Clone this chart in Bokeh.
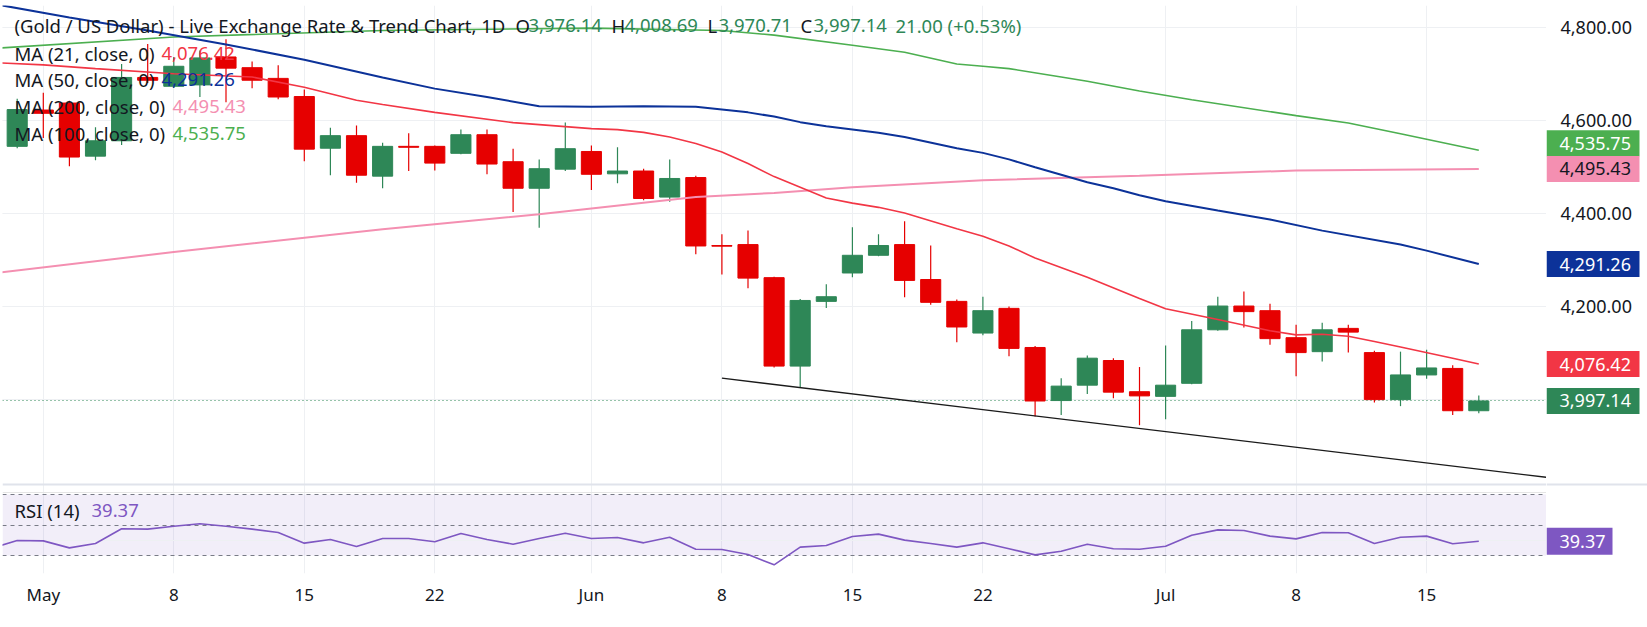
from bokeh.plotting import figure
from bokeh.layouts import row
from bokeh.models import Range1d, FixedTicker, Label, ColumnDataSource, Grid
from bokeh.core.properties import value
from bokeh.embed import file_html
from bokeh.resources import INLINE

# ---------------- data ----------------
dates = ["Apr 30", "May 1", "May 4", "May 5", "May 6", "May 7", "May 8",
         "May 11", "May 12", "May 13", "May 14", "May 15",
         "May 18", "May 19", "May 20", "May 21", "May 22",
         "May 25", "May 26", "May 27", "May 28", "May 29",
         "Jun 1", "Jun 2", "Jun 3", "Jun 4", "Jun 5",
         "Jun 8", "Jun 9", "Jun 10", "Jun 11", "Jun 12",
         "Jun 15", "Jun 16", "Jun 17", "Jun 18", "Jun 19",
         "Jun 22", "Jun 23", "Jun 24", "Jun 25", "Jun 26",
         "Jun 29", "Jun 30", "Jul 1", "Jul 2", "Jul 3",
         "Jul 6", "Jul 7", "Jul 8", "Jul 9", "Jul 10",
         "Jul 13", "Jul 14", "Jul 15", "Jul 16", "Jul 17"]

opens = [4544, 4622, 4637, 4523, 4556, 4692, 4673, 4676, 4736, 4713,
         4690, 4651, 4540, 4567, 4480, 4544, 4544, 4529, 4569, 4511,
         4454, 4495, 4533, 4485, 4491, 4435, 4477, 4331, 4333, 4262,
         4072, 4211, 4272, 4310, 4333, 4258, 4211, 4143, 4196, 4112,
         3998, 4031, 4084, 4017, 4007, 4035, 4150, 4201, 4191, 4133,
         4103, 4153, 4101, 4000, 4053, 4067, 3976.14]
highs = [4646, 4659, 4642, 4585, 4721, 4764, 4736, 4750, 4774, 4726,
         4718, 4666, 4584, 4589, 4552, 4572, 4546, 4580, 4580, 4539,
         4516, 4595, 4546, 4542, 4496, 4516, 4481, 4355, 4363, 4264,
         4216, 4248, 4370, 4355, 4383, 4331, 4215, 4221, 4200, 4115,
         4046, 4095, 4089, 4070, 4116, 4169, 4221, 4232, 4206, 4161,
         4165, 4161, 4105, 4103, 4107, 4074, 4008.69]
lows = [4540, 4562, 4501, 4514, 4547, 4680, 4670, 4650, 4639, 4669,
        4645, 4512, 4482, 4466, 4454, 4491, 4492, 4527, 4484, 4403,
        4369, 4491, 4450, 4465, 4428, 4425, 4312, 4269, 4239, 4069,
        4025, 4197, 4263, 4308, 4220, 4204, 4123, 4138, 4093, 3964,
        3967, 4012, 4003, 3945, 3958, 4033, 4148, 4155, 4118, 4050,
        4082, 4101, 3994, 3986, 4045, 3967, 3970.71]
closes = [4623, 4615, 4521, 4556, 4692, 4686, 4716, 4734, 4712, 4686,
          4650, 4538, 4567, 4482, 4544, 4542, 4508, 4569, 4506, 4454,
          4496, 4539, 4484, 4491, 4432, 4475, 4330, 4329.6, 4261, 4072,
          4213, 4221, 4310, 4331, 4256, 4209, 4156, 4191, 4110, 3997,
          4029, 4089, 4016, 4008, 4031, 4150, 4201, 4189, 4131, 4101,
          4150, 4145, 4000, 4053, 4068, 3976.14, 3997.14]

# moving averages, read at bar positions (bar index, value)
ma21_x = [-1, 1, 3, 6, 9, 11, 13, 14, 16, 19, 22, 23, 24, 25, 26, 27, 28, 29, 30, 31,
          32, 33, 34, 36, 37, 38, 39, 41, 43, 44, 46, 48, 49, 50, 51, 52, 53, 55, 56]
ma21_y = [4724, 4719, 4711, 4700, 4693, 4671, 4643, 4634, 4617, 4595, 4582, 4580, 4574,
          4564, 4550, 4532, 4507, 4479, 4456, 4433, 4422, 4413, 4401, 4367, 4351, 4330,
          4304, 4263, 4217, 4195, 4172, 4148, 4139, 4140.5, 4136, 4125, 4113, 4089, 4076.42]
ma50_x = [-1, 2, 5, 8, 11, 14, 16, 18, 20, 22, 24, 26, 27, 28, 29, 30, 31, 33, 34, 36,
          37, 38, 39, 40, 41, 42, 43, 44, 46, 48, 50, 53, 54, 56]
ma50_y = [4851, 4821, 4793, 4763, 4730, 4692, 4668, 4650, 4630, 4629, 4630, 4629, 4623,
          4617, 4608, 4596, 4587, 4573, 4564, 4540, 4530, 4516, 4499, 4483, 4467, 4454,
          4439, 4426, 4406, 4387, 4363, 4333, 4320, 4291.26]
ma100_x = [-1, 6, 14, 22, 27, 29, 32, 34, 36, 37, 38, 40, 41, 43, 45, 49, 51, 53, 56]
ma100_y = [4754, 4779, 4793, 4798, 4793, 4783, 4761, 4746, 4721, 4716, 4711, 4693, 4684,
           4663, 4644, 4610, 4594, 4571, 4535.75]
ma200_x = [-1, 6, 14, 20, 26, 29, 32, 37, 43, 49, 56]
ma200_y = [4271, 4317, 4366, 4398, 4435, 4444, 4456, 4471, 4481, 4492, 4495.43]

# RSI(14), one value per bar from index -1 to 56
rsi_x = list(range(-1, 57))
rsi_vals = [34.7, 39.8, 39.6, 35.0, 37.9, 47.5, 47.3, 49.2, 50.8, 49.2, 47.3, 45.1, 38.1,
            40.5, 35.9, 41.1, 41.1, 39.0, 44.4, 40.5, 37.4, 41.1, 44.6, 41.1, 41.8, 38.3,
            42.0, 34.1, 33.9, 30.6, 23.9, 35.5, 36.6, 42.5, 44.0, 40.1, 37.9, 35.5, 38.3,
            34.4, 30.4, 32.8, 37.4, 34.4, 34.1, 36.1, 43.3, 46.8, 46.4, 42.7, 40.9, 45.1,
            44.9, 37.9, 42.0, 42.7, 37.7, 39.37]
rsi_levels = [70, 50, 30]

# descending trend line (bar index, price)
trend_x = [27, 60]
trend_y = [4046, 3823.6]

tick_dates = ["May 1", "May 8", "May 15", "May 22", "Jun 1", "Jun 8", "Jun 15",
              "Jun 22", "Jul 1", "Jul 8", "Jul 15"]
tick_labels = ["May", "8", "15", "22", "Jun", "8", "15", "22", "Jul", "8", "15"]
price_ticks = [4000, 4200, 4400, 4600, 4800]
price_tick_labels = ["", "4,200.00", "4,400.00", "4,600.00", "4,800.00"]  # 4,000 hidden by the last-price tag

title_text = "(Gold / US Dollar) - Live Exchange Rate & Trend Chart, 1D"

# ---------------- layout / calibration ----------------
W, H = 1647, 627
FL, FR, FT, FB = 2, 1546, 5, 573         # frame edges in page pixels
PX0, BAR = 16.7, 26.1                    # pixel of bar 0, pixels per bar
PY4800, PPU = 26.67, 0.46556             # pixel of 4800, pixels per price unit
RSI50, RPU = 524.5, 1.525                # pixel of RSI 50, pixels per RSI unit


def idx_of_px(px):
    return (px - PX0) / BAR


def price_of_py(py):
    return 4800 - (py - PY4800) / PPU


def rsi_of_py(py):
    return 50 - (py - RSI50) / RPU


FONT = "Noto Sans"
DARK = "#131722"
GREEN = "#2e8757"
RED = "#e60000"
C21, C50, C100, C200 = "#f23645", "#0c3299", "#4caf50", "#f48fb1"
PURPLE = "#7e57c2"
GRID = "#eef0f3"
SEP = "#e0e3eb"

yr = Range1d(price_of_py(FB), price_of_py(FT))
rr = Range1d(rsi_of_py(FB), rsi_of_py(FT))

# ---------------- main chart (price + RSI panes) ----------------
p = figure(width=FR, height=H,
           x_range=Range1d(idx_of_px(FL), idx_of_px(FR)), y_range=yr,
           y_axis_location=None, toolbar_location=None, output_backend="svg",
           min_border_left=FL, min_border_right=0,
           min_border_top=FT, min_border_bottom=H - FB)
p.extra_y_ranges = {"rsi": rr}
p.outline_line_color = None
p.background_fill_color = "white"
p.border_fill_color = "white"

tick_idx = [dates.index(d) for d in tick_dates]
xax = p.xaxis[0]
xax.ticker = FixedTicker(ticks=tick_idx)
xax.major_label_overrides = {i: t for i, t in zip(tick_idx, tick_labels)}
xax.axis_line_color = None
xax.major_tick_line_color = None
xax.minor_tick_line_color = None
xax.major_tick_out = 0
xax.major_label_standoff = 9
xax.major_label_text_font = FONT
xax.major_label_text_font_size = "17px"
xax.major_label_text_color = DARK
p.xgrid.grid_line_color = GRID
p.add_layout(Grid(dimension=1, ticker=FixedTicker(ticks=price_ticks), grid_line_color=GRID))

# pane separator and RSI guides
p.hspan(y=[price_of_py(484)], line_color=SEP, line_width=2)
p.hstrip(y0=[rsi_levels[2]], y1=[rsi_levels[0]], y_range_name="rsi",
         fill_color=PURPLE, fill_alpha=0.1, line_color=None)
p.hspan(y=[40], y_range_name="rsi", line_color=GRID, line_width=1)
p.hspan(y=rsi_levels, y_range_name="rsi", line_color="#787b86",
        line_dash="4 4", line_width=1)
p.line(rsi_x, rsi_vals, y_range_name="rsi", line_color=PURPLE, line_width=1.6)

# last price line
p.hspan(y=[closes[-1]], line_color=GREEN, line_dash="1 3", line_width=1.2)

# candles
n = len(dates)
colors = [GREEN if closes[i] > opens[i] else RED for i in range(n)]
src = ColumnDataSource(dict(
    x=list(range(n)), h=highs, l=lows,
    top=[max(o, c) for o, c in zip(opens, closes)],
    bottom=[min(o, c) for o, c in zip(opens, closes)],
    color=colors))
p.segment(x0="x", y0="h", x1="x", y1="l", line_color="color", line_width=1.2, source=src)
p.vbar(x="x", width=0.77, top="top", bottom="bottom", fill_color="color",
       line_color="color", line_width=1, source=src)

# moving averages and trend line
p.line(ma200_x, ma200_y, line_color=C200, line_width=2)
p.line(ma100_x, ma100_y, line_color=C100, line_width=1.6)
p.line(ma50_x, ma50_y, line_color=C50, line_width=2)
p.line(ma21_x, ma21_y, line_color=C21, line_width=1.6)
p.line(trend_x, trend_y, line_color="#1a1a1a", line_width=1.3)


def add_text(px, py, txt, color, size="18.5px"):
    p.add_layout(Label(x=idx_of_px(px), y=price_of_py(py), text=txt,
                       text_color=color, text_font=FONT, text_font_size=size,
                       text_align="left", text_baseline="middle"))


# header
o, h, l, c = opens[-1], highs[-1], lows[-1], closes[-1]
chg = c - closes[-2]
pct = chg / closes[-2] * 100
add_text(14, 25, title_text, DARK)
header_parts = [(515, "O", DARK), (528, f"{o:,.2f}", GREEN),
                (611, "H", DARK), (624, f"{h:,.2f}", GREEN),
                (707, "L", DARK), (718, f"{l:,.2f}", GREEN),
                (800, "C", DARK), (813, f"{c:,.2f}", GREEN),
                (895, f"{chg:.2f} ({pct:+.2f}%)", GREEN)]
for px, t, col in header_parts:
    add_text(px, 25, t, col)

# MA legend
legend = [("MA (21, close, 0)", ma21_y[-1], C21, 52.7, 161),
          ("MA (50, close, 0)", ma50_y[-1], C50, 79.3, 161),
          ("MA (200, close, 0)", ma200_y[-1], C200, 106, 172),
          ("MA (100, close, 0)", ma100_y[-1], C100, 133.3, 172)]
for name, val, col, py, vx in legend:
    add_text(14, py, name, DARK)
    add_text(vx, py, f"{val:,.2f}", col)

# RSI legend
add_text(14, 510, "RSI (14)", DARK)
add_text(91, 510, f"{rsi_vals[-1]:.2f}", PURPLE)

# ---------------- right price scale ----------------
SW = W - FR
q = figure(width=SW, height=H, x_range=Range1d(0, SW), y_range=yr,
           y_axis_location=None, x_axis_location=None,
           toolbar_location=None, output_backend="svg",
           min_border_left=0, min_border_right=0,
           min_border_top=FT, min_border_bottom=H - FB)
q.extra_y_ranges = {"rsi": rr}
q.outline_line_color = None
q.background_fill_color = "white"
q.border_fill_color = "white"
q.grid.visible = False

q.hspan(y=[price_of_py(484)], line_color=SEP, line_width=2)

# price scale labels, placed through the shared price scale
q.text(x=14, y=price_ticks, text=price_tick_labels, text_color=DARK,
       text_font=value(FONT), text_font_size="18px", text_baseline="middle")

# value tags: (value, background, text colour, upward shift in px to avoid overlap)
tags = [(ma100_y[-1], C100, "white", 7),
        (ma200_y[-1], C200, DARK, 0),
        (ma50_y[-1], C50, "white", 0),
        (ma21_y[-1], C21, "white", 0),
        (closes[-1], GREEN, "white", 0)]
tag_y = [v + shift / PPU for v, _, _, shift in tags]
q.rect(x=46.5, y=tag_y, width=93, height=26, height_units="screen",
       fill_color=[t[1] for t in tags], line_color=None)
q.text(x=13, y=tag_y, text=[f"{t[0]:,.2f}" for t in tags],
       text_color=[t[2] for t in tags], text_font=value(FONT),
       text_font_size="18px", text_baseline="middle")
q.rect(x=33, y=[rsi_vals[-1]], width=66, height=27, height_units="screen",
       y_range_name="rsi", fill_color=PURPLE, line_color=None)
q.text(x=13, y=[rsi_vals[-1]], text=[f"{rsi_vals[-1]:.2f}"], y_range_name="rsi",
       text_color="white", text_font=value(FONT), text_font_size="18px",
       text_baseline="middle")

layout = row(p, q)
open("out.html", "w").write(file_html(layout, INLINE))
